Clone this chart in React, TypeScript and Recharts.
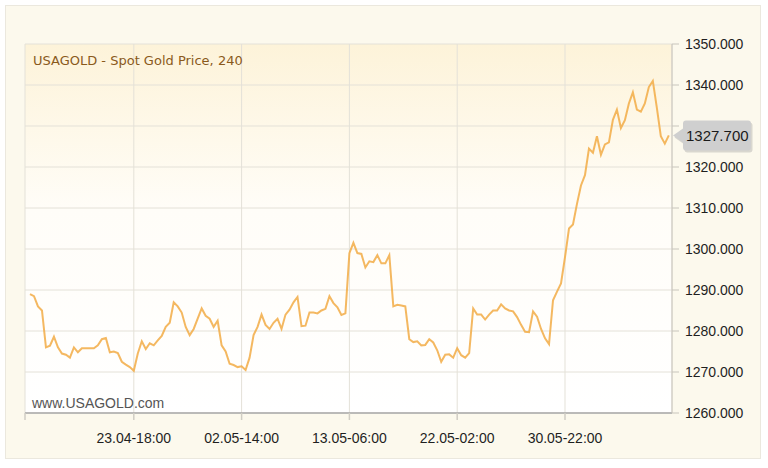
import React from 'react';
import { LineChart, Line, XAxis, YAxis, CartesianGrid, ReferenceLine } from 'recharts';

// 4h closes, sampled every other bar
const prices = [
  1289, 1288.5, 1286, 1285, 1276, 1276.4, 1278.6, 1276, 1274.5, 1274.2,
  1273.5, 1276, 1274.8, 1275.8, 1275.8, 1275.8, 1275.8, 1276.5, 1278, 1278.3,
  1274.8, 1275, 1274.6, 1272.5, 1271.8, 1271.2, 1270.3, 1274.5, 1277.5, 1275.6,
  1277, 1276.5, 1277.7, 1278.8, 1281, 1282, 1287, 1286, 1284.5, 1281,
  1279, 1280.5, 1283, 1285.5, 1283.7, 1283, 1281, 1282.5, 1276.5, 1275,
  1272, 1271.7, 1271.2, 1271.4, 1270.5, 1273.5, 1279, 1281, 1284, 1281.5,
  1280.5, 1282, 1283, 1280.5, 1284, 1285.2, 1287, 1288.3, 1281.2, 1281.3,
  1284.5, 1284.5, 1284.3, 1285, 1285.4, 1288.5, 1286.8, 1285.8, 1283.9, 1284.3,
  1299, 1301.5, 1299, 1298.8, 1295.5, 1297, 1296.8, 1298.5, 1296.5, 1296.5,
  1298.5, 1286, 1286.4, 1286.2, 1286, 1278, 1277.3, 1277.5, 1276.5, 1276.6,
  1278, 1277.2, 1275.3, 1272.5, 1274.2, 1274.3, 1273.5, 1275.8, 1274.1, 1273.5,
  1274.6, 1285.5, 1284, 1284, 1282.8, 1284, 1285, 1285, 1286.5, 1285.5,
  1285, 1284.8, 1283.4, 1281.5, 1279.8, 1279.7, 1284.8, 1283.5, 1280.5, 1278.2,
  1276.8, 1287.5, 1289.6, 1291.6, 1298, 1305, 1306, 1311, 1315.5, 1318,
  1324.5, 1323.5, 1327.5, 1323, 1325.5, 1326, 1331.5, 1334, 1329.5, 1331.4,
  1335.5, 1338.2, 1334, 1333.5, 1335.5, 1339.5, 1341, 1334.5, 1327.5, 1325.7,
  1327.7,
];

const xTickIdx = [26, 53, 80, 107, 134];
const xTickLabels = ['23.04-18:00', '02.05-14:00', '13.05-06:00', '22.05-02:00', '30.05-22:00'];
const xDomain = [-1.25, 160.8];

const yTicks = [1260, 1270, 1280, 1290, 1300, 1310, 1320, 1330, 1340, 1350];

const lastPrice = prices[prices.length - 1];

const data = prices.map((p, i) => ({ i, p }));

const labelFor = (v: number) => {
  const k = xTickIdx.indexOf(v);
  return k >= 0 ? xTickLabels[k] : '';
};

// the price tag sits on top of the nearest tick label, so that one is left blank
const yLabel = (v: number) => (Math.abs(v - lastPrice) < 5 ? '' : v.toFixed(3));

const PriceTag = (props: any) => {
  const vb = props.viewBox || {};
  const x = vb.x + vb.width + 1;
  const y = vb.y;
  const h = 30;
  const w = 68;
  const p = 10;
  const t = y - h / 2;
  const b = y + h / 2;
  const path = `M${x},${y} L${x + p},${y - 7} L${x + p},${t + 3} Q${x + p},${t} ${x + p + 3},${t} L${x + p + w - 3},${t} Q${x + p + w},${t} ${x + p + w},${t + 3} L${x + p + w},${b - 3} Q${x + p + w},${b} ${x + p + w - 3},${b} L${x + p + 3},${b} Q${x + p},${b} ${x + p},${b - 3} L${x + p},${y + 7} Z`;
  return (
    <g>
      <path d={path} fill="#999" opacity={0.35} transform="translate(1.5,2)" />
      <path d={path} fill="#cfcfcf" />
      <text x={x + p + 3} y={y + 5.5} fontSize={15} fill="#1a1a1a" fontFamily="'Liberation Sans', Arial, sans-serif">
        {lastPrice.toFixed(3)}
      </text>
    </g>
  );
};

const App: React.FC = () => {
  return (
    <div style={{ position: 'absolute', left: 0, top: 0, width: 768, height: 468, background: '#fff' }}>
      <div style={{ position: 'absolute', left: 5, top: 5, width: 756, height: 454, background: '#fcf9ed', border: '1px solid #ebe8de', boxSizing: 'border-box' }} />
      <div style={{ position: 'absolute', left: 0, top: 0 }}>
        <LineChart width={768} height={468} data={data} margin={{ top: 44, right: 0, left: 25, bottom: 0 }}>
          <defs>
            <linearGradient id="plotBg" x1="0" y1="0" x2="0" y2="1">
              <stop offset="0%" stopColor="#fdf3d9" />
              <stop offset="45%" stopColor="#fffdf8" />
              <stop offset="100%" stopColor="#ffffff" />
            </linearGradient>
          </defs>
          <CartesianGrid stroke="#e4e1d8" fill="url(#plotBg)" fillOpacity={1} />
          <XAxis
            dataKey="i"
            type="number"
            domain={xDomain}
            ticks={[xDomain[0], ...xTickIdx]}
            tickFormatter={labelFor}
            height={55}
            stroke="#a8a8a8"
            strokeWidth={1.5}
            tickSize={7}
            tickMargin={13}
            tick={{ fill: '#1f1f1f', fontSize: 14, fontFamily: "'Liberation Sans', Arial, sans-serif" }}
            tickLine={{ stroke: '#d0cdc4' }}
          />
          <YAxis
            orientation="right"
            domain={[1260, 1350]}
            ticks={yTicks}
            width={96}
            stroke="#c8c5bc"
            tickSize={7}
            tickMargin={6}
            tickFormatter={yLabel}
            tick={{ fill: '#1f1f1f', fontSize: 14, fontFamily: "'Liberation Sans', Arial, sans-serif", textAnchor: 'start' }}
            tickLine={{ stroke: '#c8c5bc' }}
          />
          <ReferenceLine y={lastPrice} stroke="none" label={<PriceTag />} />
          <Line
            type="linear"
            dataKey="p"
            stroke="#f2ab45"
            strokeOpacity={0.85}
            strokeWidth={2}
            dot={false}
            isAnimationActive={false}
          />
        </LineChart>
      </div>
      <div style={{ position: 'absolute', left: 33, top: 53, fontFamily: "'DejaVu Sans', Verdana, sans-serif", fontSize: 13, color: '#8a5a1c' }}>
        USAGOLD - Spot Gold Price, 240
      </div>
      <div style={{ position: 'absolute', left: 32, top: 395, fontFamily: "'Liberation Sans', Arial, sans-serif", fontSize: 14, color: '#555' }}>
        www.USAGOLD.com
      </div>
    </div>
  );
};

export default App;
